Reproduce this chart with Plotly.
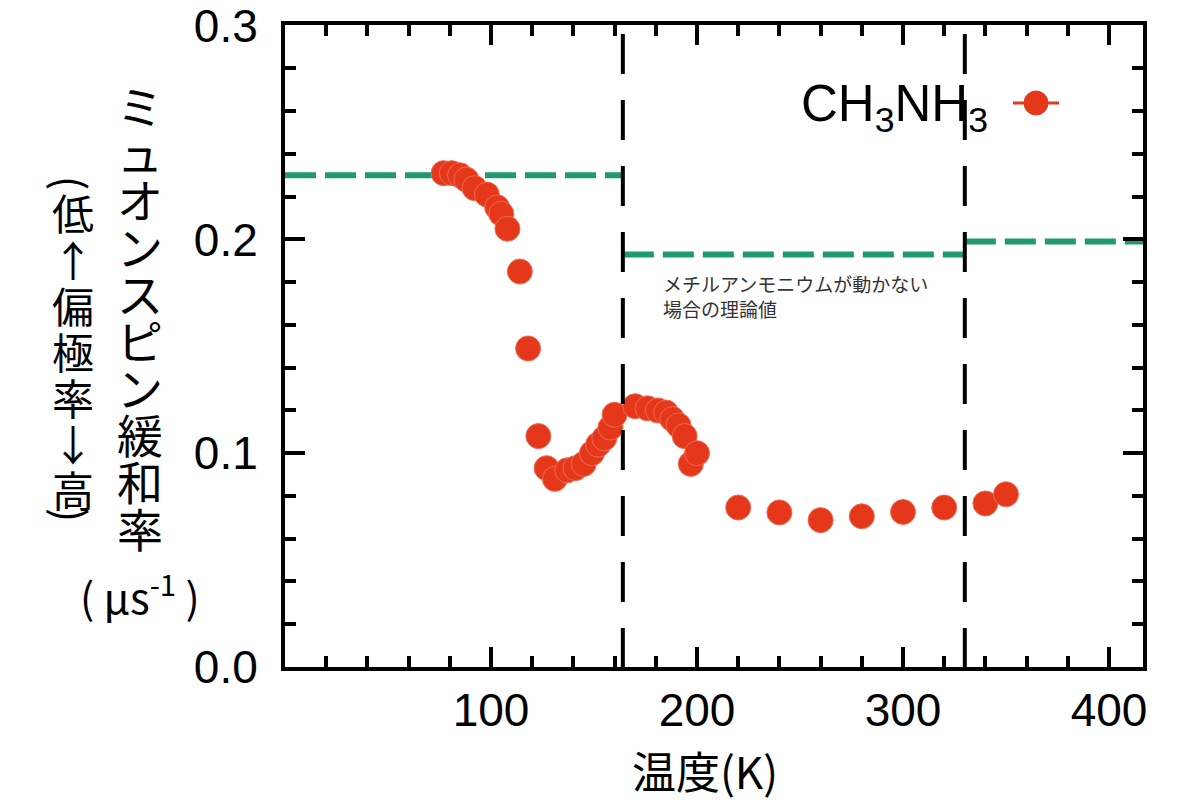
import plotly.graph_objects as go

# ---- data ----
temperature_K = [77, 81, 85, 88, 92, 98, 103, 105, 108, 114, 118, 123, 127, 131,
                 137, 141, 145, 149, 152, 155, 158, 160, 170, 176, 181, 185, 188,
                 191, 194, 197, 200, 220, 240, 260, 280, 300, 320, 340, 350]
relaxation_rate = [0.231, 0.231, 0.230, 0.228, 0.224, 0.221, 0.215, 0.212, 0.205,
                   0.185, 0.149, 0.108, 0.093, 0.088, 0.092, 0.093, 0.095, 0.100,
                   0.104, 0.107, 0.112, 0.118, 0.122, 0.121, 0.120, 0.119, 0.116,
                   0.113, 0.108, 0.095, 0.100, 0.0746, 0.0723, 0.0687, 0.0705,
                   0.0725, 0.0746, 0.0765, 0.0808]

transition_T = [164, 330]                 # vertical dashed lines
theory_T_edges = [0, 164, 330, 416.5]     # segment boundaries of theory lines
theory_values = [0.230, 0.193, 0.199]     # theoretical rate (static methylammonium)

x_range = [0, 416.5]
y_range = [0, 0.3003]
x_tickvals = [100, 200, 300, 400]
y_tickvals = [0.0, 0.1, 0.2, 0.3]
y_ticktext = ["0.0", "0.1", "0.2", "0.3"]

series_name = "CH<sub>3</sub>NH<sub>3</sub>"
note_text = "メチルアンモニウムが動かない<br>場合の理論値"
x_title = "温度(K)"
y_title_main = "ミュオンスピン緩和率"
y_title_sub = ["(", "低", "↑", "偏", "極", "率", "↓", "高", ")"]
y_unit = "( μs<sup>-1</sup> )"

RED = "#e5381b"
GREEN = "#1f9a6e"
JP = "Noto Sans CJK JP"
LAT = "Liberation Sans"

# layout geometry (pixels). The page body adds an 8px offset, compensated here.
W, H = 1200, 800
OFF = 8
PL, PR, PT, PB = 285, 1143, 25, 667   # target plot area on screen
L, T = PL - OFF, PT - OFF
R, B = W - (PR - OFF), H - (PB - OFF)
PW, PH = PR - PL, PB - PT

def px(xp):
    return (xp - PL) / PW

def py(yp):
    return (PB - yp) / PH

fig = go.Figure()

# theory (green dashed) segments
for i, v in enumerate(theory_values):
    fig.add_trace(go.Scatter(
        x=[theory_T_edges[i], theory_T_edges[i + 1]], y=[v, v],
        mode="lines", line=dict(color=GREEN, width=6, dash="31px,9px"),
        hoverinfo="skip", showlegend=False))

# data points
fig.add_trace(go.Scatter(
    x=temperature_K, y=relaxation_rate, mode="markers", name=series_name,
    marker=dict(size=25, color=RED, line=dict(color="#ef6a52", width=1)),
    showlegend=False))

# transition (black dashed) lines
for t in transition_T:
    fig.add_trace(go.Scatter(
        x=[t, t], y=[y_range[1], y_range[0]], mode="lines",
        line=dict(color="black", width=4, dash="0px,9px,40px,17px"),
        hoverinfo="skip", showlegend=False))

axis_common = dict(
    showline=True, linecolor="black", linewidth=4, mirror="allticks",
    ticks="inside", tickcolor="black", tickwidth=3.5, ticklen=20,
    showgrid=False, zeroline=False, ticklabeloverflow="allow", automargin=False,
    tickfont=dict(family=LAT, size=46, color="black"),
)

fig.update_xaxes(range=x_range, tickmode="array", tickvals=x_tickvals,
                 minor=dict(tick0=0, dtick=20, ticks="inside", ticklen=11,
                            tickwidth=3.5, tickcolor="black"),
                 ticklabelstandoff=0, **axis_common)
fig.update_yaxes(range=y_range, tickmode="array", tickvals=y_tickvals,
                 ticktext=y_ticktext,
                 minor=dict(tick0=0, dtick=0.02, ticks="inside", ticklen=11,
                            tickwidth=3.5, tickcolor="black"),
                 ticklabelstandoff=14, **axis_common)

annotations = []
# x title
annotations.append(dict(text=x_title, x=px(705), y=py(770), xref="paper", yref="paper",
                        xanchor="center", yanchor="middle", showarrow=False,
                        font=dict(family=JP, size=44, color="black")))
# y title, column 1 (vertical, upright characters)
for i, ch in enumerate(y_title_main):
    annotations.append(dict(text=ch, x=px(140), y=py(104 + 47 * i), xref="paper", yref="paper",
                            xanchor="center", yanchor="middle", showarrow=False,
                            font=dict(family=JP, size=46, color="black")))
# y title, column 2
sub_y = [183, 212, 258, 304, 350, 396, 442, 488, 515]
for ch, yy in zip(y_title_sub, sub_y):
    ang = 90 if ch in "()" else 0
    annotations.append(dict(text=ch, x=px(73), y=py(yy), xref="paper", yref="paper",
                            xanchor="center", yanchor="middle", showarrow=False,
                            textangle=ang,
                            font=dict(family=JP, size=42, color="black")))
# unit
annotations.append(dict(text=y_unit, x=px(140), y=py(594), xref="paper", yref="paper",
                        xanchor="center", yanchor="middle", showarrow=False,
                        font=dict(family=JP, size=42, color="black")))
# note
annotations.append(dict(text=note_text, x=px(661), y=py(296), xref="paper", yref="paper",
                        xanchor="left", yanchor="middle", align="left", showarrow=False,
                        font=dict(family=JP, size=19, color="#333333")))
# legend text
annotations.append(dict(text=series_name, x=px(990), y=py(108), xref="paper", yref="paper",
                        xanchor="right", yanchor="middle", showarrow=False,
                        font=dict(family=LAT, size=51, color="black")))

shapes = [
    dict(type="line", xref="paper", yref="paper", xsizemode="pixel", ysizemode="pixel",
         xanchor=px(1036), yanchor=py(103), x0=-23, x1=23, y0=0, y1=0,
         line=dict(color=RED, width=3)),
    dict(type="circle", xref="paper", yref="paper", xsizemode="pixel", ysizemode="pixel",
         xanchor=px(1036), yanchor=py(103), x0=-12, x1=12, y0=-12, y1=12,
         fillcolor=RED, line=dict(color=RED, width=1)),
]

fig.update_layout(
    width=W, height=H, margin=dict(l=L, r=R, t=T, b=B, autoexpand=False),
    paper_bgcolor="white", plot_bgcolor="white",
    showlegend=False, annotations=annotations, shapes=shapes,
)

fig.write_html("out.html")
